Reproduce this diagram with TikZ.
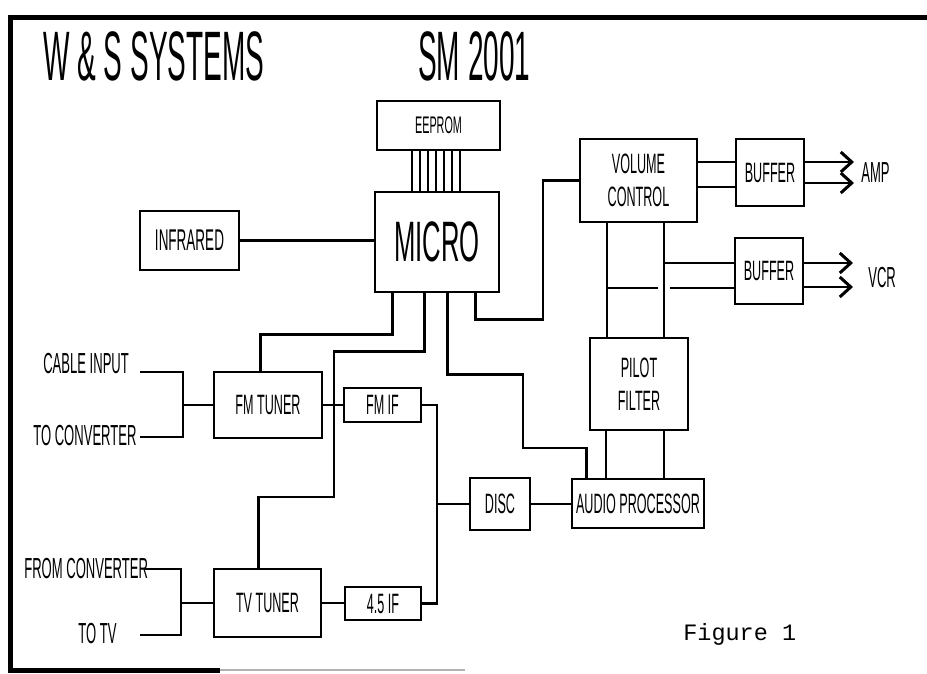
\documentclass[tikz,border=0pt]{standalone}
\usepackage{fontspec}
\usetikzlibrary{arrows.meta}
\newfontfamily\plotfont[FakeStretch=0.45]{Liberation Sans}
\newfontfamily\titlefont[FakeStretch=0.4]{Liberation Sans}
\newfontfamily\figfont{Liberation Mono}

\begin{document}
\begin{tikzpicture}[x=1pt,y=-1pt,line width=2.6pt,
    blk/.style={draw,inner sep=0pt,align=center,font=\plotfont\fontsize{28}{33}\selectfont},
    lbl/.style={inner sep=0pt,anchor=base west,font=\plotfont\fontsize{29}{30}\selectfont},
    sig/.style={-{Straight Barb[length=11pt,width=20pt,line width=3pt]}}]
  \useasboundingbox (0,0) rectangle (927,673);

  % frame and title
  \draw[line width=5pt] (927,17) -- (10,17) -- (10,670) -- (220,670);
  \draw[line width=1.2pt,gray!60] (220,670) -- (465,670);
  \node[inner sep=0pt,anchor=base west,font=\titlefont\fontsize{70}{72}\selectfont] (maker) at (42,80) {W \& S SYSTEMS};
  \node[inner sep=0pt,anchor=base west,font=\titlefont\fontsize{70}{72}\selectfont] (model) at (417,80) {SM 2001};
  \node[inner sep=0pt,anchor=base west,font=\figfont\fontsize{23.5}{25}\selectfont] (fig) at (682,640) {Figure 1};

  % blocks
  \node[blk,minimum width=123,minimum height=49,font=\plotfont\fontsize{24}{26}\selectfont] (eeprom) at (438.5,125.5) {EEPROM};
  \node[blk,minimum width=124,minimum height=100,font=\plotfont\fontsize{57}{60}\selectfont] (micro) at (437,242) {MICRO};
  \node[blk,minimum width=99,minimum height=59,font=\plotfont\fontsize{30}{32}\selectfont] (infrared) at (189.5,240.5) {INFRARED};
  \node[blk,minimum width=117,minimum height=83] (volume) at (638.5,180.5) {VOLUME\\CONTROL};
  \node[blk,minimum width=68,minimum height=67] (bufamp) at (770,172.5) {BUFFER};
  \node[blk,minimum width=68,minimum height=66] (bufvcr) at (769,271) {BUFFER};
  \node[blk,minimum width=98,minimum height=92] (pilot) at (639,384) {PILOT\\FILTER};
  \node[blk,minimum width=132,minimum height=49] (audio) at (638,503.5) {AUDIO PROCESSOR};
  \node[blk,minimum width=60,minimum height=52] (disc) at (500,504) {DISC};
  \node[blk,minimum width=108,minimum height=66] (fmtuner) at (268,405) {FM TUNER};
  \node[blk,minimum width=77,minimum height=34] (fmif) at (382.5,405) {FM IF};
  \node[blk,minimum width=107,minimum height=68] (tvtuner) at (267.5,603) {TV TUNER};
  \node[blk,minimum width=76,minimum height=33] (iffour) at (383,603.5) {4.5 IF};

  % outside labels
  \node[lbl] (cable) at (42,373) {CABLE INPUT};
  \node[lbl] (toconv) at (32,445) {TO CONVERTER};
  \node[lbl] (fromconv) at (23,578) {FROM CONVERTER};
  \node[lbl] (totv) at (77,643) {TO TV};
  \node[lbl] (amp) at (860,182) {AMP};
  \node[lbl] (vcr) at (867,287) {VCR};
  \coordinate (cin) at (140,372);
  \coordinate (cout) at (140,437);
  \coordinate (tin) at (144,569);
  \coordinate (tout) at (140,635);
  \coordinate (ampa) at (854,162);
  \coordinate (ampb) at (854,183);
  \coordinate (vcra) at (853,263);
  \coordinate (vcrb) at (853,287);

  % micro bus and control lines
  \foreach \bx in {412,420,...,460}
    \draw[line width=2.2pt] (eeprom.south -| \bx,0) -- (micro.north -| \bx,0);
  \draw (infrared.east) -- (infrared.east -| micro.west);
  \draw ([xshift=19pt]micro.south west) -- ++(0,41) -| ([xshift=48pt]fmtuner.north west);
  \draw ([xshift=51pt]micro.south west) -- ++(0,58) -| (334,497) -| ([xshift=46pt]tvtuner.north west);
  \draw ([xshift=74pt]micro.south west) -- ++(0,81) -| (523,448) -| ([xshift=16pt]audio.north west);
  \draw ([xshift=102pt]micro.south west) -- ++(0,26) -| (543,200) |- (volume.west);

  % audio path
  \draw (volume.east |- 0,162) -- (bufamp.west |- 0,162);
  \draw (volume.east |- 0,187) -- (bufamp.west |- 0,187);
  \draw[sig] (bufamp.east |- ampa) -- (ampa);
  \draw[sig] (bufamp.east |- ampb) -- (ampb);
  \draw (volume.south -| 607,0) -- (pilot.north -| 607,0);
  \draw (volume.south -| 664,0) -- (pilot.north -| 664,0);
  \draw (664,263) -- (bufvcr.west |- 0,263);
  \draw (607,288) -- (658,288);
  \draw (670,288) -- (bufvcr.west |- 0,288);
  \draw[sig] (bufvcr.east |- vcra) -- (vcra);
  \draw[sig] (bufvcr.east |- vcrb) -- (vcrb);
  \draw (pilot.south -| 606,0) -- (audio.north -| 606,0);
  \draw (pilot.south -| 664,0) -- (audio.north -| 664,0);
  \draw (disc.east) -- (disc.east -| audio.west);

  % tuners
  \draw (cin) -| (183,420) |- (cout);
  \draw (fmtuner.west -| 183,0) -- (fmtuner.west);
  \draw (tin) -| (181,600) |- (tout);
  \draw (tvtuner.west -| 181,0) -- (tvtuner.west);
  \draw (fmtuner.east) -- (fmif.west);
  \draw (tvtuner.east) -- (tvtuner.east -| iffour.west);
  \draw (fmif.east) -| (437,560) |- (iffour.east);
  \draw (disc.west -| 437,0) -- (disc.west);
\end{tikzpicture}
\end{document}
